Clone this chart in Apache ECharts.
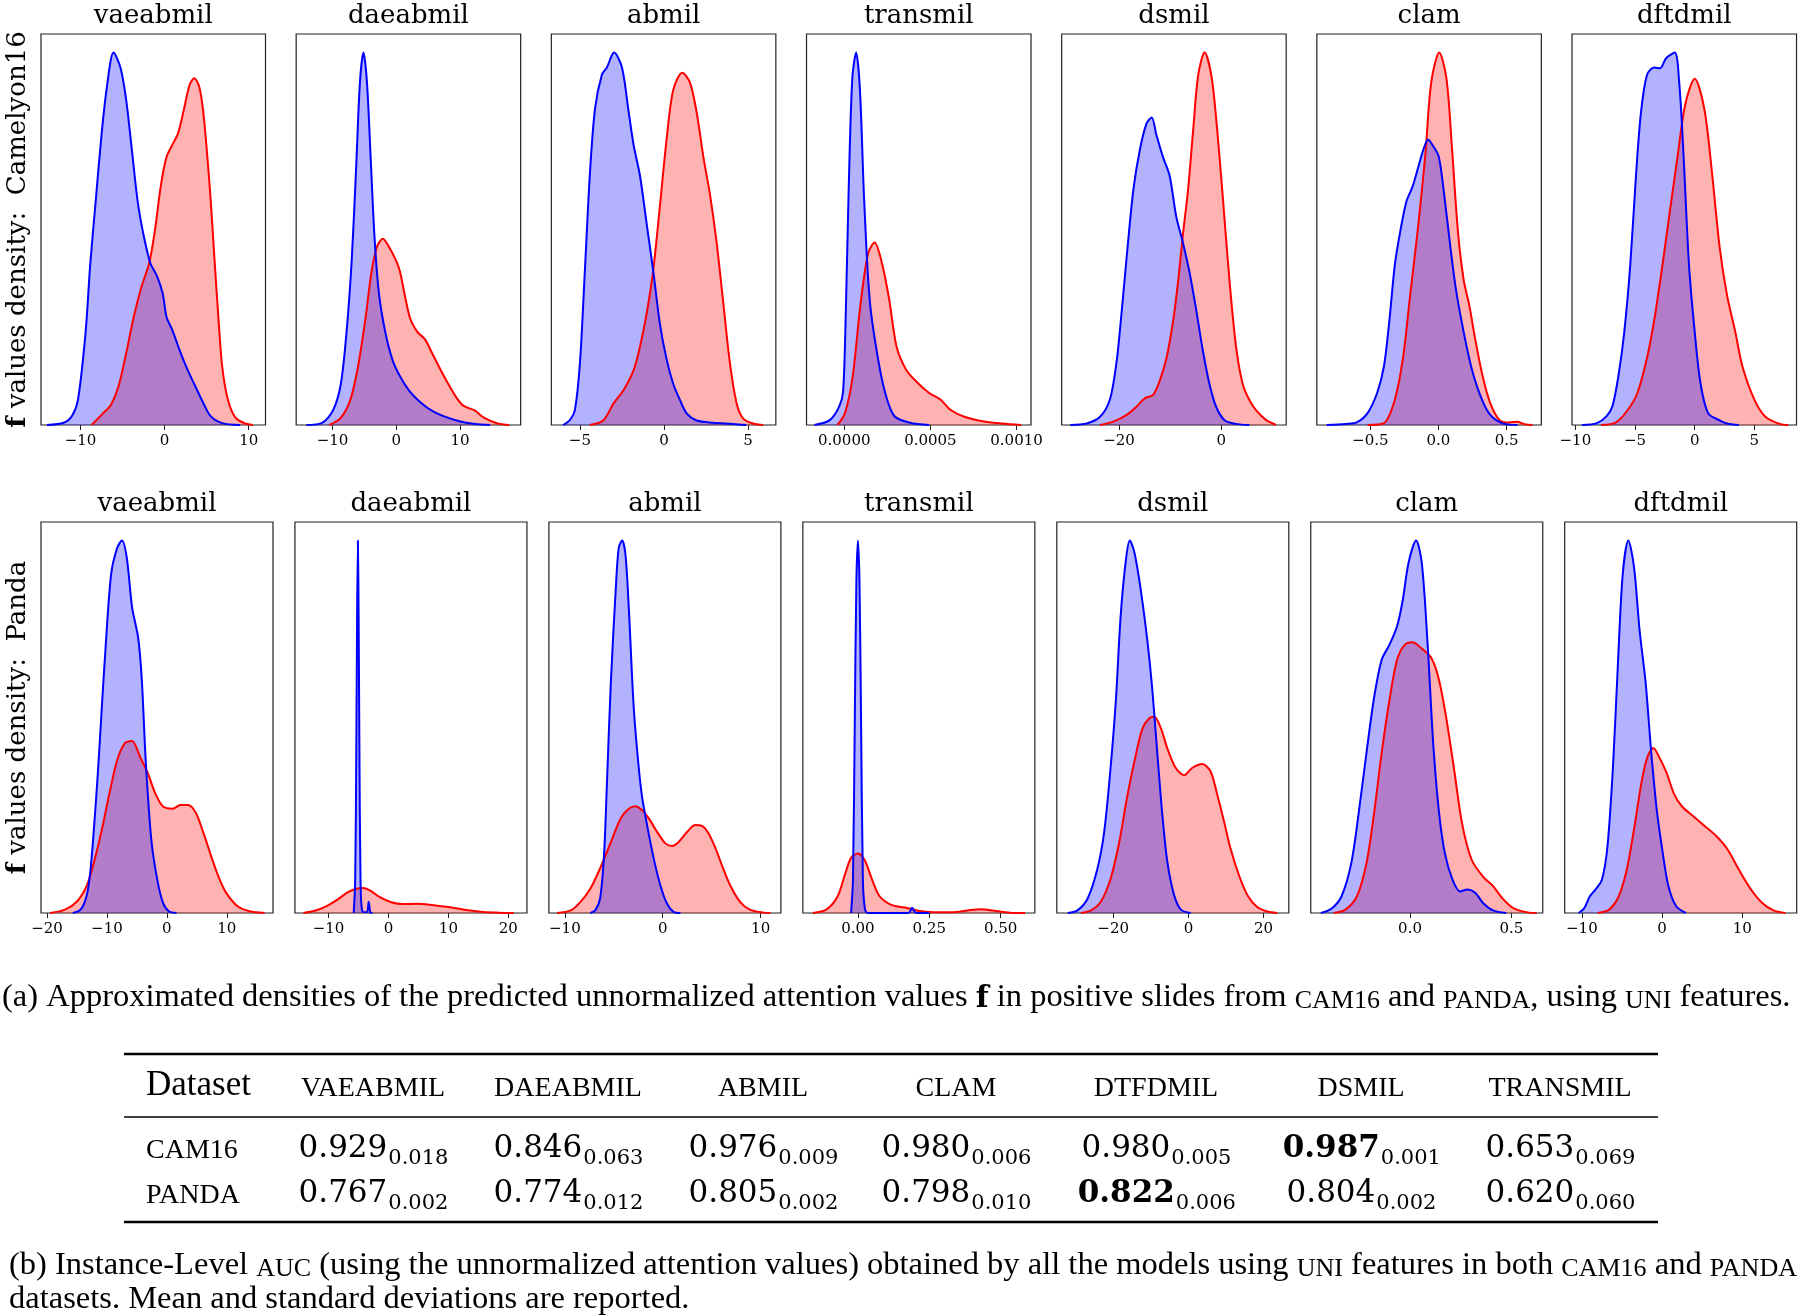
<!DOCTYPE html>
<html>
<head>
<meta charset="utf-8">
<script src="https://cdn.jsdelivr.net/npm/echarts@6/dist/echarts.min.js"></script>
<style>
  html, body { margin: 0; padding: 0; background: #fff; }
  #chart { width: 1800px; height: 1316px; }
</style>
</head>
<body>
<div id="chart"></div>
<script>
// ---- panel names ----
const models = ['vaeabmil', 'daeabmil', 'abmil', 'transmil', 'dsmil', 'clam', 'dftdmil'];

// ---- x ranges and tick labels (Camelyon16 row / Panda row) ----
const camXRange = [[-14.7, 12.0], [-15.7, 19.5], [-6.7, 6.65], [-0.000219, 0.001084], [-31.2, 12.7], [-0.892, 0.755], [-10.28, 8.53]];
const pandaXRange = [[-21.0, 17.7], [-15.6, 23.1], [-11.63, 12.07], [-0.193, 0.62], [-35.0, 26.7], [-0.49, 0.655], [-12.14, 16.8]];
const camTickLabels = [['−10', '0', '10'], ['−10', '0', '10'], ['−5', '0', '5'], ['0.0000', '0.0005', '0.0010'], ['−20', '0'], ['−0.5', '0.0', '0.5'], ['−10', '−5', '0', '5']];
const pandaTickLabels = [['−20', '−10', '0', '10'], ['−10', '0', '10', '20'], ['−10', '0', '10'], ['0.00', '0.25', '0.50'], ['−20', '0', '20'], ['0.0', '0.5'], ['−10', '0', '10']];

// ---- density curves, Camelyon16 (height relative to the panel peak) ----
const camVaeabmilBlue = [[-14.0,0],[-12.0,0.006],[-11.0,0.025],[-10.3,0.068],[-9.4,0.248],[-8.85,0.43],[-8.2,0.6],[-7.5,0.78],[-6.85,0.91],[-6.07,1.0],[-5.25,0.96],[-4.57,0.873],[-3.9,0.74],[-3.2,0.6],[-2.5,0.51],[-1.7,0.435],[-0.9,0.4],[-0.23,0.354],[0.23,0.29],[0.9,0.256],[1.8,0.2],[2.7,0.15],[3.65,0.104],[4.6,0.059],[5.5,0.023],[6.85,0.005],[9.0,0]];
const camVaeabmilRed = [[-8.68,0],[-7.3,0.032],[-6.39,0.054],[-5.48,0.104],[-4.57,0.193],[-3.65,0.292],[-2.74,0.372],[-1.83,0.435],[-1.14,0.524],[-0.46,0.641],[0.23,0.72],[0.91,0.752],[1.6,0.783],[2.28,0.846],[2.97,0.913],[3.52,0.931],[4.11,0.909],[4.57,0.846],[5.02,0.738],[5.48,0.604],[5.94,0.443],[6.39,0.291],[6.85,0.157],[7.53,0.068],[8.45,0.019],[9.59,0.004],[10.5,0]];
const camDaeabmilBlue = [[-14.1,0],[-11.7,0.005],[-9.9,0.04],[-8.7,0.11],[-7.8,0.25],[-7.0,0.44],[-6.3,0.69],[-5.7,0.92],[-5.15,1.0],[-4.6,0.92],[-4.0,0.71],[-3.4,0.5],[-2.7,0.35],[-1.7,0.247],[-0.6,0.175],[0.6,0.13],[2.1,0.09],[3.9,0.059],[5.7,0.037],[7.5,0.023],[9.9,0.01],[12.3,0.003],[14.7,0]];
const camDaeabmilRed = [[-10.5,0],[-8.7,0.019],[-7.2,0.068],[-6.0,0.157],[-4.8,0.29],[-3.9,0.41],[-3.0,0.48],[-2.1,0.5],[-1.2,0.48],[0,0.44],[0.6,0.41],[2.1,0.29],[3.3,0.25],[4.5,0.23],[5.7,0.19],[7.5,0.13],[9.3,0.077],[10.5,0.052],[12.3,0.039],[13.8,0.019],[15.9,0.004],[17.7,0]];
const camAbmilBlue = [[-6.0,0],[-5.6,0.013],[-5.3,0.04],[-5.0,0.166],[-4.7,0.42],[-4.4,0.68],[-4.1,0.85],[-3.7,0.94],[-3.4,0.96],[-2.97,1.0],[-2.5,0.96],[-2.1,0.84],[-1.8,0.75],[-1.43,0.67],[-1.03,0.54],[-0.63,0.41],[-0.24,0.27],[0.16,0.175],[0.55,0.11],[0.95,0.067],[1.35,0.031],[1.94,0.012],[2.93,0.006],[4.1,0.003],[4.9,0]];
const camAbmilRed = [[-4.4,0],[-3.6,0.013],[-3.0,0.058],[-2.4,0.094],[-1.8,0.148],[-1.43,0.21],[-1.03,0.3],[-0.63,0.42],[-0.24,0.59],[0.16,0.77],[0.55,0.9],[1.09,0.946],[1.54,0.92],[1.94,0.84],[2.34,0.72],[2.73,0.62],[3.13,0.49],[3.52,0.33],[3.92,0.166],[4.32,0.058],[4.7,0.018],[5.3,0.004],[5.9,0]];
const camTransmilBlue = [[-0.000173,0],[-0.000084,0.013],[-0.000029,0.05],[-0.0000067,0.09],[0.0000089,0.3],[0.0000267,0.65],[0.0000467,0.93],[0.0000689,1.0],[0.0000911,0.9],[0.000116,0.6],[0.000149,0.33],[0.000204,0.157],[0.000249,0.068],[0.000293,0.023],[0.000382,0.006],[0.000493,0]];
const camTransmilRed = [[-0.00004,0],[0.0000044,0.032],[0.0000489,0.13],[0.0000933,0.32],[0.000138,0.46],[0.000176,0.49],[0.000216,0.44],[0.00026,0.34],[0.000304,0.21],[0.00036,0.148],[0.000427,0.113],[0.000493,0.086],[0.00056,0.068],[0.000616,0.041],[0.000693,0.023],[0.000804,0.01],[0.000916,0.004],[0.001027,0]];
const camDsmilBlue = [[-29.5,0],[-26.3,0.004],[-23.7,0.022],[-21.8,0.067],[-20.5,0.166],[-19.5,0.3],[-18.5,0.45],[-17.2,0.63],[-15.9,0.74],[-14.6,0.81],[-13.6,0.826],[-12.7,0.78],[-11.4,0.72],[-10.1,0.67],[-8.8,0.56],[-7.5,0.49],[-6.2,0.41],[-4.9,0.31],[-3.6,0.2],[-2.3,0.11],[-1.0,0.049],[0.65,0.013],[2.9,0.003],[5.5,0]];
const camDsmilRed = [[-23.7,0],[-21.1,0.009],[-18.5,0.027],[-16.6,0.049],[-14.9,0.072],[-13.3,0.081],[-12.0,0.12],[-10.7,0.18],[-9.4,0.28],[-8.4,0.39],[-7.5,0.51],[-6.5,0.63],[-5.5,0.79],[-4.5,0.94],[-3.25,1.0],[-1.95,0.94],[-0.97,0.82],[0.32,0.61],[1.6,0.39],[2.9,0.21],[4.2,0.11],[5.5,0.067],[6.8,0.04],[8.8,0.013],[10.7,0]];
const camClamBlue = [[-0.82,0],[-0.68,0.003],[-0.6,0.007],[-0.52,0.032],[-0.45,0.086],[-0.4,0.157],[-0.36,0.28],[-0.32,0.43],[-0.28,0.52],[-0.235,0.6],[-0.19,0.64],[-0.15,0.69],[-0.11,0.74],[-0.076,0.767],[-0.04,0.75],[0.003,0.72],[0.045,0.61],[0.087,0.48],[0.13,0.36],[0.185,0.25],[0.24,0.157],[0.3,0.086],[0.37,0.032],[0.465,0.005],[0.58,0]];
const camClamRed = [[-0.52,0],[-0.4,0.005],[-0.32,0.068],[-0.26,0.18],[-0.21,0.34],[-0.15,0.53],[-0.095,0.73],[-0.053,0.92],[0.006,1.0],[0.059,0.93],[0.1,0.74],[0.143,0.52],[0.185,0.39],[0.227,0.32],[0.27,0.23],[0.325,0.13],[0.38,0.059],[0.45,0.0125],[0.52,0.007],[0.577,0.009],[0.633,0.002],[0.69,0]];
const camDftdmilBlue = [[-9.45,0],[-8.2,0.005],[-7.4,0.023],[-6.9,0.05],[-6.4,0.13],[-5.9,0.25],[-5.4,0.43],[-4.9,0.68],[-4.5,0.84],[-4.0,0.94],[-3.4,0.96],[-2.9,0.958],[-2.4,0.985],[-1.67,1.0],[-1.3,0.92],[-0.96,0.74],[-0.48,0.43],[0,0.25],[0.48,0.113],[1.12,0.032],[2.08,0.0125],[2.7,0.004],[3.7,0]];
const camDftdmilRed = [[-7.85,0],[-6.6,0.007],[-5.6,0.041],[-4.8,0.086],[-4.0,0.18],[-3.4,0.28],[-2.7,0.43],[-2.1,0.57],[-1.44,0.72],[-0.8,0.86],[0,0.93],[0.8,0.85],[1.44,0.68],[2.08,0.48],[2.7,0.35],[3.4,0.25],[4.0,0.157],[5.0,0.068],[5.9,0.023],[7.2,0.002],[7.85,0]];

// ---- density curves, Panda ----
const pandaVaeabmilBlue = [[-15.7,0],[-14.4,0.009],[-13.4,0.045],[-12.8,0.107],[-12.2,0.22],[-11.5,0.38],[-10.9,0.54],[-10.2,0.72],[-9.3,0.91],[-8.3,0.98],[-7.5,1.0],[-6.7,0.955],[-5.8,0.82],[-4.8,0.74],[-4.2,0.63],[-3.5,0.4],[-2.6,0.197],[-1.6,0.089],[-0.64,0.027],[0.32,0.0045],[1.6,0]];
const pandaVaeabmilRed = [[-19.5,0],[-17.0,0.009],[-15.0,0.031],[-13.4,0.072],[-12.2,0.134],[-10.9,0.22],[-9.6,0.32],[-8.3,0.41],[-7.0,0.456],[-5.8,0.462],[-4.5,0.42],[-3.2,0.376],[-1.9,0.32],[-0.64,0.286],[0.96,0.28],[2.24,0.29],[3.5,0.29],[4.8,0.27],[6.1,0.215],[7.4,0.152],[8.6,0.098],[9.9,0.054],[11.8,0.018],[13.8,0.0045],[16.3,0]];
const pandaDaeabmilBlue = [[-5.8,0],[-5.55,0.089],[-5.36,0.45],[-5.23,0.8],[-5.1,1.0],[-4.98,0.8],[-4.85,0.45],[-4.66,0.089],[-4.34,0.004],[-3.6,0.002],[-3.3,0.03],[-3.0,0.001],[-2.7,0]];
const pandaDaeabmilRed = [[-14.2,0],[-12.3,0.006],[-10.4,0.018],[-8.5,0.036],[-6.9,0.055],[-5.6,0.064],[-4.3,0.067],[-3.1,0.061],[-1.5,0.043],[0.45,0.029],[2.4,0.024],[4.9,0.025],[7.5,0.021],[10.0,0.016],[12.6,0.009],[15.8,0.003],[18.3,0.001],[20.9,0]];
const pandaAbmilBlue = [[-7.4,0],[-6.9,0.007],[-6.4,0.039],[-6.0,0.155],[-5.7,0.35],[-5.3,0.62],[-4.8,0.87],[-4.5,0.98],[-4.15,1.0],[-3.8,0.96],[-3.47,0.82],[-2.96,0.55],[-2.45,0.39],[-2.1,0.31],[-1.6,0.236],[-0.92,0.146],[-0.24,0.074],[0.44,0.025],[1.1,0.003],[1.8,0]];
const pandaAbmilRed = [[-10.8,0],[-9.4,0.007],[-8.4,0.03],[-7.4,0.065],[-6.4,0.12],[-5.3,0.19],[-4.3,0.254],[-3.47,0.28],[-2.8,0.287],[-2.1,0.276],[-1.43,0.254],[-0.58,0.218],[0.27,0.187],[0.95,0.18],[1.6,0.19],[2.5,0.218],[3.33,0.236],[4.0,0.234],[4.7,0.213],[5.4,0.173],[6.05,0.128],[6.9,0.074],[7.9,0.03],[8.9,0.009],[10.3,0.001],[11.0,0]];
const pandaTransmilBlue = [[-0.024,0],[-0.0174,0.089],[-0.0107,0.54],[-0.0054,0.89],[0,1.0],[0.0054,0.89],[0.0107,0.54],[0.0174,0.089],[0.025,0.009],[0.036,0],[0.177,0],[0.19,0.014],[0.204,0],[0.25,0]];
const pandaTransmilRed = [[-0.158,0],[-0.111,0.009],[-0.071,0.045],[-0.044,0.107],[-0.024,0.148],[0,0.16],[0.023,0.143],[0.05,0.089],[0.076,0.045],[0.117,0.022],[0.17,0.014],[0.21,0.006],[0.264,0.002],[0.33,0.002],[0.385,0.007],[0.43,0.01],[0.478,0.006],[0.532,0.001],[0.586,0]];
const pandaDsmilBlue = [[-32.1,0],[-29.5,0.007],[-26.8,0.039],[-24.2,0.119],[-22.4,0.218],[-20.7,0.39],[-19.3,0.57],[-18.0,0.8],[-16.6,0.95],[-15.6,1.0],[-14.4,0.97],[-12.7,0.87],[-10.9,0.73],[-9.6,0.6],[-8.2,0.42],[-6.9,0.26],[-5.6,0.137],[-3.8,0.048],[-2.0,0.009],[0.6,0]];
const pandaDsmilRed = [[-28.6,0],[-25.9,0.007],[-23.3,0.03],[-20.7,0.092],[-18.4,0.19],[-16.2,0.317],[-14.0,0.424],[-12.2,0.496],[-10.4,0.523],[-9.1,0.527],[-7.3,0.496],[-5.6,0.442],[-3.4,0.39],[-1.15,0.37],[1.06,0.39],[3.7,0.4],[5.9,0.38],[7.7,0.317],[9.5,0.245],[11.2,0.173],[13.5,0.1],[15.7,0.048],[18.3,0.016],[21.0,0.004],[23.6,0]];
const pandaClamBlue = [[-0.44,0],[-0.385,0.013],[-0.338,0.045],[-0.29,0.134],[-0.253,0.27],[-0.215,0.43],[-0.177,0.58],[-0.14,0.68],[-0.102,0.72],[-0.064,0.77],[-0.036,0.84],[-0.0075,0.94],[0.03,1.0],[0.058,0.94],[0.087,0.72],[0.115,0.45],[0.143,0.27],[0.172,0.16],[0.21,0.089],[0.247,0.058],[0.285,0.063],[0.323,0.054],[0.36,0.027],[0.41,0.007],[0.474,0]];
const pandaClamRed = [[-0.375,0],[-0.319,0.009],[-0.262,0.045],[-0.215,0.134],[-0.177,0.27],[-0.14,0.43],[-0.102,0.57],[-0.064,0.68],[-0.026,0.72],[0.011,0.727],[0.058,0.71],[0.106,0.684],[0.143,0.626],[0.18,0.52],[0.22,0.376],[0.257,0.24],[0.304,0.143],[0.36,0.098],[0.41,0.072],[0.455,0.04],[0.51,0.013],[0.587,0.001],[0.625,0]];
const pandaDftdmilBlue = [[-10.4,0],[-9.7,0.013],[-9.0,0.045],[-8.3,0.063],[-7.5,0.089],[-6.8,0.18],[-6.1,0.4],[-5.5,0.67],[-4.9,0.91],[-4.2,1.0],[-3.5,0.93],[-2.8,0.76],[-2.05,0.62],[-1.34,0.43],[-0.62,0.27],[0.1,0.16],[0.8,0.072],[1.77,0.018],[2.96,0]];
const pandaDftdmilRed = [[-8.0,0],[-6.6,0.009],[-5.4,0.045],[-4.4,0.116],[-3.5,0.224],[-2.5,0.358],[-1.8,0.42],[-1.1,0.443],[-0.38,0.42],[0.57,0.376],[1.5,0.32],[2.5,0.286],[3.9,0.26],[5.35,0.233],[6.8,0.206],[8.2,0.17],[9.6,0.116],[11.1,0.063],[12.5,0.027],[13.9,0.007],[15.4,0]];

// ---- AUC table ----
const tableHeaders = ['VAEABMIL', 'DAEABMIL', 'ABMIL', 'CLAM', 'DTFDMIL', 'DSMIL', 'TRANSMIL'];
const cam16Mean = [0.929, 0.846, 0.976, 0.980, 0.980, 0.987, 0.653];
const cam16Std = [0.018, 0.063, 0.009, 0.006, 0.005, 0.001, 0.069];
const pandaMean = [0.767, 0.774, 0.805, 0.798, 0.822, 0.804, 0.620];
const pandaStd = [0.002, 0.012, 0.002, 0.010, 0.006, 0.002, 0.060];

const camBlue = [camVaeabmilBlue, camDaeabmilBlue, camAbmilBlue, camTransmilBlue, camDsmilBlue, camClamBlue, camDftdmilBlue];
const camRed = [camVaeabmilRed, camDaeabmilRed, camAbmilRed, camTransmilRed, camDsmilRed, camClamRed, camDftdmilRed];
const pandaBlue = [pandaVaeabmilBlue, pandaDaeabmilBlue, pandaAbmilBlue, pandaTransmilBlue, pandaDsmilBlue, pandaClamBlue, pandaDftdmilBlue];
const pandaRed = [pandaVaeabmilRed, pandaDaeabmilRed, pandaAbmilRed, pandaTransmilRed, pandaDsmilRed, pandaClamRed, pandaDftdmilRed];

const chart = echarts.init(document.getElementById('chart'), null, { renderer: 'canvas' });

const SERIF = 'DejaVu Serif';
const TIMES = 'Liberation Serif';

// row layout
const rows = [
  { top: 34, height: 391, left0: 41, step: 255.17, width: 224.5, range: camXRange, ticks: camTickLabels, blue: camBlue, red: camRed, titleY: 16, ylabel: 'Camelyon16' },
  { top: 522, height: 391, left0: 41, step: 253.95, width: 232, range: pandaXRange, ticks: pandaTickLabels, blue: pandaBlue, red: pandaRed, titleY: 504, ylabel: 'Panda' }
];

const toNum = s => parseFloat(s.replace('−', '-'));

const grid = [], xAxis = [], yAxis = [], series = [], graphics = [];

rows.forEach((row, r) => {
  models.forEach((name, i) => {
    const idx = r * models.length + i;
    const left = row.left0 + i * row.step;
    grid.push({
      left: left, top: row.top, width: row.width, height: row.height,
      show: true, borderColor: '#222', borderWidth: 1.2, backgroundColor: 'transparent'
    });
    const labels = row.ticks[i];
    const vals = labels.map(toNum);
    xAxis.push({
      type: 'value', gridIndex: idx,
      min: row.range[i][0], max: row.range[i][1],
      axisLine: { show: false },
      splitLine: { show: false },
      axisTick: { show: true, customValues: vals, length: 5, lineStyle: { color: '#222', width: 1 } },
      axisLabel: {
        customValues: vals, margin: 9,
        fontFamily: SERIF, fontSize: 15, color: '#000',
        formatter: v => {
          const k = vals.findIndex(t => Math.abs(t - v) < 1e-12);
          return k >= 0 ? labels[k] : '';
        }
      }
    });
    yAxis.push({ type: 'value', gridIndex: idx, min: 0, max: 1.05, show: false });

    // red first, blue drawn over it
    [[row.red[i], '#ff0000'], [row.blue[i], '#0000ff']].forEach(([data, color]) => {
      series.push({
        type: 'line', xAxisIndex: idx, yAxisIndex: idx,
        data: data, showSymbol: false, smooth: 0.3, clip: true,
        lineStyle: { color: color, width: 2 },
        areaStyle: { color: color, opacity: 0.3 },
        silent: true
      });
    });

    graphics.push({
      type: 'text', x: left + row.width / 2, y: row.titleY,
      style: { text: name, fontFamily: SERIF, fontSize: 26, fill: '#000',
               textAlign: 'center', textVerticalAlign: 'middle', align: 'center', verticalAlign: 'middle' }
    });
  });

  graphics.push({
    type: 'text', x: 18, y: row.top + row.height / 2, rotation: Math.PI / 2,
    style: {
      text: '{b|f} values density:  ' + row.ylabel,
      fontFamily: SERIF, fontSize: 26, fill: '#000',
      textAlign: 'center', textVerticalAlign: 'middle', align: 'center', verticalAlign: 'middle',
      rich: { b: { fontFamily: SERIF, fontSize: 26, fontWeight: 'bold', fill: '#000' } }
    }
  });
});

// captions
const capRich = {
  b: { fontFamily: SERIF, fontWeight: 'bold', fontSize: 30, fill: '#000', lineHeight: 38, verticalAlign: 'bottom' },
  sc: { fontFamily: TIMES, fontSize: 26, fill: '#000', lineHeight: 34, verticalAlign: 'bottom' },
  n: { fontFamily: TIMES, fontSize: 32.5, fill: '#000', lineHeight: 38, verticalAlign: 'bottom' }
};
function captionText(x, y, text) {
  graphics.push({
    type: 'text', x: x, y: y,
    style: { text: text, fontFamily: TIMES, fontSize: 32.5, fill: '#000', lineHeight: 38,
             textAlign: 'left', textVerticalAlign: 'middle', align: 'left', verticalAlign: 'middle', rich: capRich }
  });
}
captionText(2, 995, '{n|(a) Approximated densities of the predicted unnormalized attention values }{b|f}{n| in positive slides from }{sc|CAM16}{n| and }{sc|PANDA}{n|, using }{sc|UNI}{n| features.}');
captionText(9, 1263, '{n|(b) Instance-Level }{sc|AUC}{n| (using the unnormalized attention values) obtained by all the models using }{sc|UNI}{n| features in both }{sc|CAM16}{n| and }{sc|PANDA}');
captionText(9, 1297, '{n|datasets. Mean and standard deviations are reported.}');

// table rules
const ruleX1 = 124, ruleX2 = 1658;
[[1054, 2.6], [1117, 1.5], [1222, 2.6]].forEach(([y, w]) => {
  graphics.push({ type: 'line', shape: { x1: ruleX1, y1: y, x2: ruleX2, y2: y }, style: { stroke: '#000', lineWidth: w } });
});

const colCenters = [373, 568, 763, 956, 1156, 1361, 1560];
graphics.push({
  type: 'text', x: 146, y: 1086,
  style: { text: 'Dataset', fontFamily: TIMES, fontSize: 35, fill: '#000', textAlign: 'left', textVerticalAlign: 'middle', align: 'left', verticalAlign: 'middle' }
});
tableHeaders.forEach((h, c) => {
  graphics.push({
    type: 'text', x: colCenters[c], y: 1089,
    style: { text: h, fontFamily: TIMES, fontSize: 28, fill: '#000', textAlign: 'center', textVerticalAlign: 'middle', align: 'center', verticalAlign: 'middle' }
  });
});

function tableRow(label, means, stds, y) {
  graphics.push({
    type: 'text', x: 146, y: y + 2,
    style: { text: label, fontFamily: TIMES, fontSize: 28, fill: '#000', textAlign: 'left', textVerticalAlign: 'middle', align: 'left', verticalAlign: 'middle' }
  });
  const best = Math.max(...means);
  means.forEach((m, c) => {
    const bold = m === best;
    const mainW = (bold ? 3.15 : 2.86) * 31;
    const subW = 2.86 * 21;
    const anchor = colCenters[c] - (mainW + subW) / 2 + mainW;
    graphics.push({
      type: 'text', x: anchor, y: y,
      style: { text: m.toFixed(3), fontFamily: SERIF, fontSize: 31, fontWeight: bold ? 'bold' : 'normal', fill: '#000',
               textAlign: 'right', textVerticalAlign: 'middle', align: 'right', verticalAlign: 'middle' }
    });
    graphics.push({
      type: 'text', x: anchor + 1, y: y + 10,
      style: { text: stds[c].toFixed(3), fontFamily: SERIF, fontSize: 21, fill: '#000',
               textAlign: 'left', textVerticalAlign: 'middle', align: 'left', verticalAlign: 'middle' }
    });
  });
}
tableRow('CAM16', cam16Mean, cam16Std, 1149);
tableRow('PANDA', pandaMean, pandaStd, 1194);

chart.setOption({
  animation: false,
  backgroundColor: '#fff',
  grid: grid,
  xAxis: xAxis,
  yAxis: yAxis,
  series: series,
  graphic: { elements: graphics }
});

window.addEventListener('resize', () => chart.resize());
</script>
</body>
</html>
